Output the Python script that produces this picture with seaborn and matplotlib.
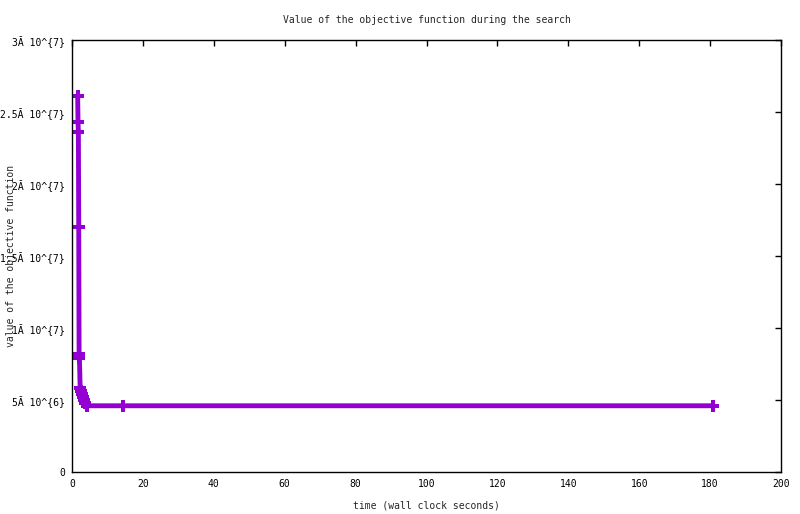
import numpy as np
import pandas as pd
import matplotlib
matplotlib.use("Agg")
import matplotlib.pyplot as plt
import seaborn as sns

# ========== DATA ==========
time_s = [1.6, 1.7, 1.8, 1.9, 2.0, 2.1, 2.3, 2.6, 2.9, 3.2, 3.5, 3.8, 4.2, 14.4, 180.8]
objective = [2.61e7, 2.43e7, 2.36e7, 1.70e7, 8.2e6, 7.9e6, 5.8e6, 5.6e6,
             5.4e6, 5.2e6, 5.0e6, 4.8e6, 4.6e6, 4.6e6, 4.6e6]

x_ticks = list(range(0, 201, 20))
y_ticks = [0, 5e6, 1e7, 1.5e7, 2e7, 2.5e7, 3e7]
y_tick_labels = ["0", "5Ă 10^{6}", "1Ă 10^{7}", "1.5Ă 10^{7}",
                 "2Ă 10^{7}", "2.5Ă 10^{7}", "3Ă 10^{7}"]

df = pd.DataFrame({"time": time_s, "value": objective})

# ========== STYLE ==========
sns.set_theme(style="white")
plt.rcParams['font.family'] = ['DejaVu Sans Mono', 'DejaVu Sans']
plt.rcParams['font.size'] = 7

fig = plt.figure(figsize=(8, 5.14), dpi=100)
ax = fig.add_axes([0.09, 0.0817, 0.88625, 0.8405])

color = "#9400D3"
sns.lineplot(data=df, x="time", y="value", ax=ax, color=color,
             linewidth=3.5, marker="P", markersize=8, markeredgewidth=0,
             estimator=None, sort=False)

ax.set_xlim(0, 200)
ax.set_ylim(0, 3e7)
ax.set_xticks(x_ticks)
ax.set_xticklabels([str(t) for t in x_ticks], fontsize=7)
ax.set_yticks(y_ticks)
ax.set_yticklabels(y_tick_labels, fontsize=7)

ax.tick_params(axis="both", which="both", direction="in", length=4, width=1,
               top=True, right=True, colors="black", pad=5)
for sp in ax.spines.values():
    sp.set_visible(True)
    sp.set_color("black")
    sp.set_linewidth(1)

ax.set_title("Value of the objective function during the search",
             fontsize=7, pad=12)
ax.set_xlabel("time (wall clock seconds)", fontsize=7, labelpad=8)
ax.set_ylabel("value of the objective function", fontsize=7)
ax.yaxis.set_label_coords(-0.079, 0.5)
ax.grid(False)

plt.savefig("out.png", dpi=100)
print("Saved: out.png")
